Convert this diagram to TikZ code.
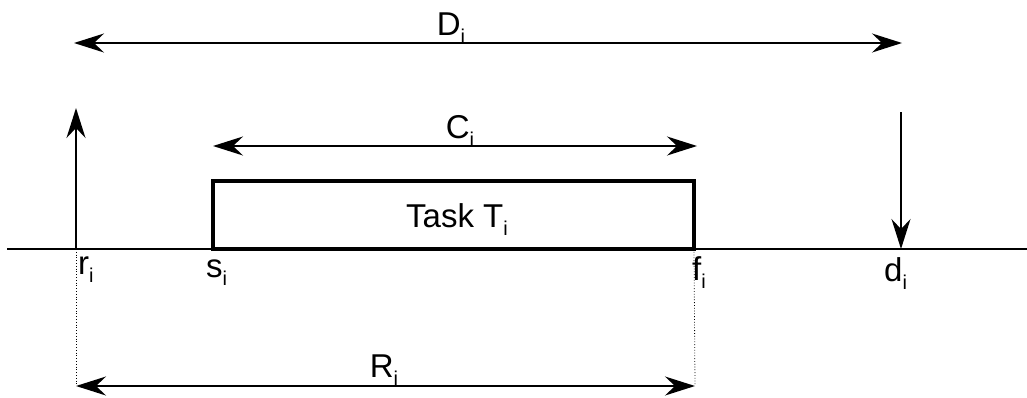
\documentclass[tikz,border=0pt]{standalone}
\usepackage{fontspec}
\setmainfont{Liberation Sans}
\usetikzlibrary{arrows.meta}
\newcommand{\idx}[1]{\raisebox{-8pt}{\fontsize{20}{22}\selectfont #1}}
\begin{document}
\begin{tikzpicture}[x=1pt,y=-1pt,
        head/.tip={Stealth[length=30pt,width=19pt,inset=10pt]},
        tip/.style={line width=1.6pt,-head},
        span/.style={line width=1.6pt,head-head},
        lbl/.style={inner sep=0pt,font=\fontsize{33}{38}\selectfont}]
    \useasboundingbox (0,0) rectangle (1027,397);
    % time axis and the instants on it
    \coordinate (t0) at (7,249);
    \coordinate (t1) at (1027,249);
    \draw[line width=1.6pt] (t0) -- (t1);
    \foreach \n/\x in {r/76,s/213,f/694,d/901}
    {
        \coordinate (\n) at (\x,249);
    }
    \node[lbl,anchor=base west] (rlab) at (78,274) {r\idx{i}};
    \node[lbl,anchor=base west] (slab) at (206,277) {s\idx{i}};
    \node[lbl,anchor=base west] (flab) at (692,280) {f\idx{i}};
    \node[lbl,anchor=base west] (dlab) at (884,281) {d\idx{i}};
    % release and deadline
    \coordinate (rtop) at (76,108);
    \coordinate (dtop) at (901,112);
    \draw[tip] (r) -- (rtop);
    \draw[tip] (dtop) -- (d);
    % the task
    \coordinate (ftop) at (694,181);
    \draw[line width=3.5pt] (s) rectangle (ftop);
    \node[lbl,anchor=base] (task) at (457,227) {Task T\idx{i}};
    % D_i
    \coordinate (Dl) at (74,43);
    \coordinate (Dr) at (902,43);
    \draw[span] (Dl) -- (Dr);
    \node[lbl,anchor=base] (Dlab) at (451,35) {D\idx{i}};
    % C_i
    \coordinate (Cl) at (213,146);
    \coordinate (Cr) at (697,146);
    \draw[span] (Cl) -- (Cr);
    \node[lbl,anchor=base] (Clab) at (460,138) {C\idx{i}};
    % R_i
    \coordinate (Rl) at (76,386);
    \coordinate (Rr) at (695,386);
    \draw[span] (Rl) -- (Rr);
    \node[lbl,anchor=base] (Rlab) at (384,377) {R\idx{i}};
    \draw[dotted,line width=0.8pt] (r) -- (Rl);
    \draw[dotted,line width=0.8pt] (f) -- (Rr);
\end{tikzpicture}
\end{document}
